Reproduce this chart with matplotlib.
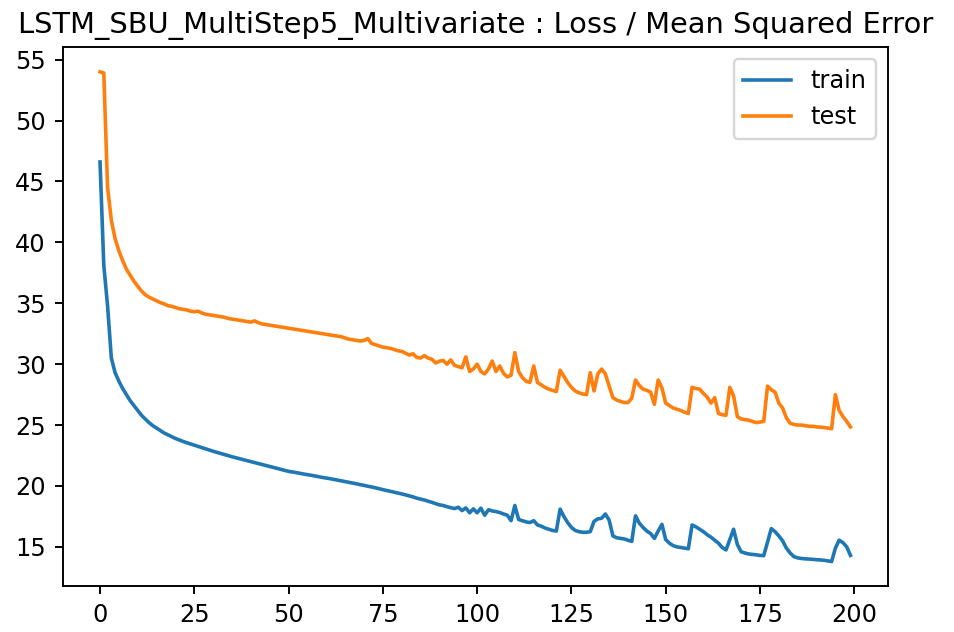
import matplotlib
matplotlib.use('Agg')
import matplotlib.pyplot as plt

# loss history (200 epochs)
train_loss = [
    46.6, 38.1, 34.8, 30.5, 29.3, 28.6, 28.0, 27.5, 27.0, 26.6,
    26.2, 25.8, 25.5, 25.2, 24.95, 24.75, 24.55, 24.35, 24.2, 24.05,
    23.9, 23.78, 23.66, 23.55, 23.45, 23.35, 23.25, 23.15, 23.05, 22.95,
    22.85, 22.76, 22.67, 22.58, 22.49, 22.4, 22.32, 22.24, 22.16, 22.08,
    22.0, 21.92, 21.84, 21.76, 21.68, 21.6, 21.52, 21.44, 21.36, 21.28,
    21.2, 21.15, 21.1, 21.04, 20.98, 20.93, 20.88, 20.82, 20.76, 20.7,
    20.65, 20.6, 20.54, 20.48, 20.42, 20.36, 20.3, 20.24, 20.18, 20.11,
    20.05, 19.98, 19.92, 19.85, 19.78, 19.7, 19.63, 19.56, 19.49, 19.42,
    19.35, 19.27, 19.19, 19.1, 19.0, 18.92, 18.85, 18.75, 18.66, 18.55,
    18.45, 18.4, 18.3, 18.22, 18.15, 18.25, 17.98, 18.2, 17.8, 18.12,
    17.8, 18.18, 17.6, 18.05, 17.95, 17.9, 17.82, 17.7, 17.6, 17.15,
    18.4, 17.25, 17.15, 17.05, 17.0, 17.15, 16.8, 16.7, 16.55, 16.45,
    16.35, 16.3, 18.1, 17.5, 17.0, 16.6, 16.35, 16.25, 16.2, 16.2,
    16.25, 17.1, 17.3, 17.35, 17.7, 17.2, 15.9, 15.75, 15.7, 15.65,
    15.55, 15.45, 17.55, 16.95, 16.6, 16.3, 16.1, 15.7, 16.3, 16.85,
    15.6, 15.3, 15.1, 15.0, 14.95, 14.9, 14.85, 16.8, 16.65, 16.45,
    16.25, 16.0, 15.8, 15.55, 15.3, 14.95, 14.75, 15.6, 16.45, 15.2,
    14.6, 14.5, 14.42, 14.38, 14.35, 14.3, 14.28, 15.4, 16.5, 16.25,
    15.9, 15.5, 14.9, 14.5, 14.2, 14.1, 14.05, 14.02, 14.0, 13.98,
    13.95, 13.93, 13.9, 13.85, 13.8, 14.9, 15.55, 15.35, 15.0, 14.3,
]

test_loss = [
    54.0, 53.9, 44.5, 41.8, 40.3, 39.3, 38.5, 37.8, 37.3, 36.8,
    36.4, 36.0, 35.7, 35.5, 35.35, 35.2, 35.05, 34.95, 34.8, 34.75,
    34.65, 34.55, 34.5, 34.45, 34.35, 34.3, 34.35, 34.2, 34.1, 34.05,
    34.0, 33.95, 33.9, 33.85, 33.75, 33.7, 33.65, 33.6, 33.55, 33.5,
    33.45, 33.55, 33.4, 33.3, 33.25, 33.2, 33.15, 33.1, 33.05, 33.0,
    32.95, 32.9, 32.85, 32.8, 32.75, 32.7, 32.65, 32.6, 32.55, 32.5,
    32.45, 32.4, 32.35, 32.3, 32.25, 32.15, 32.05, 32.0, 31.95, 31.9,
    31.95, 32.1, 31.7, 31.6, 31.5, 31.4, 31.35, 31.3, 31.2, 31.1,
    31.05, 30.9, 30.75, 30.85, 30.55, 30.5, 30.7, 30.5, 30.4, 30.1,
    30.25, 30.3, 30.0, 30.35, 29.9, 29.8, 29.7, 30.6, 29.4, 29.6,
    30.0, 29.4, 29.2, 29.6, 30.25, 29.4, 29.85, 29.25, 28.95, 29.1,
    30.95, 29.4, 28.9, 28.6, 28.5, 29.85, 28.5, 28.3, 28.1, 27.95,
    27.85, 27.75, 29.5, 29.0, 28.5, 28.1, 27.8, 27.65, 27.55, 27.5,
    29.3, 27.8, 29.2, 29.6, 29.2, 28.2, 27.25, 27.05, 26.95, 26.85,
    26.85, 27.2, 28.7, 28.25, 27.95, 27.85, 27.7, 26.7, 28.7, 28.05,
    26.8, 26.6, 26.4, 26.3, 26.2, 26.05, 25.95, 28.1, 28.0, 27.95,
    27.6, 27.3, 26.8, 27.25, 25.95, 25.85, 25.8, 28.1, 27.4, 25.7,
    25.5, 25.45, 25.4, 25.3, 25.2, 25.25, 25.3, 28.2, 27.9, 27.7,
    26.8, 26.4, 25.6, 25.15, 25.05, 25.0, 25.0, 24.95, 24.9, 24.9,
    24.85, 24.83, 24.8, 24.75, 24.7, 27.5, 26.2, 25.7, 25.3, 24.85,
]

dpi = 173
fig, ax = plt.subplots(figsize=(954 / dpi, 632 / dpi), dpi=dpi)
fig.subplots_adjust(left=62.5 / 954, right=888 / 954, bottom=1 - 586 / 632, top=1 - 47.3 / 632)

ax.plot(train_loss, label='train')
ax.plot(test_loss, label='test')
ax.set_title('LSTM_SBU_MultiStep5_Multivariate : Loss / Mean Squared Error')
ax.legend()

fig.savefig('out.png', dpi=dpi)
